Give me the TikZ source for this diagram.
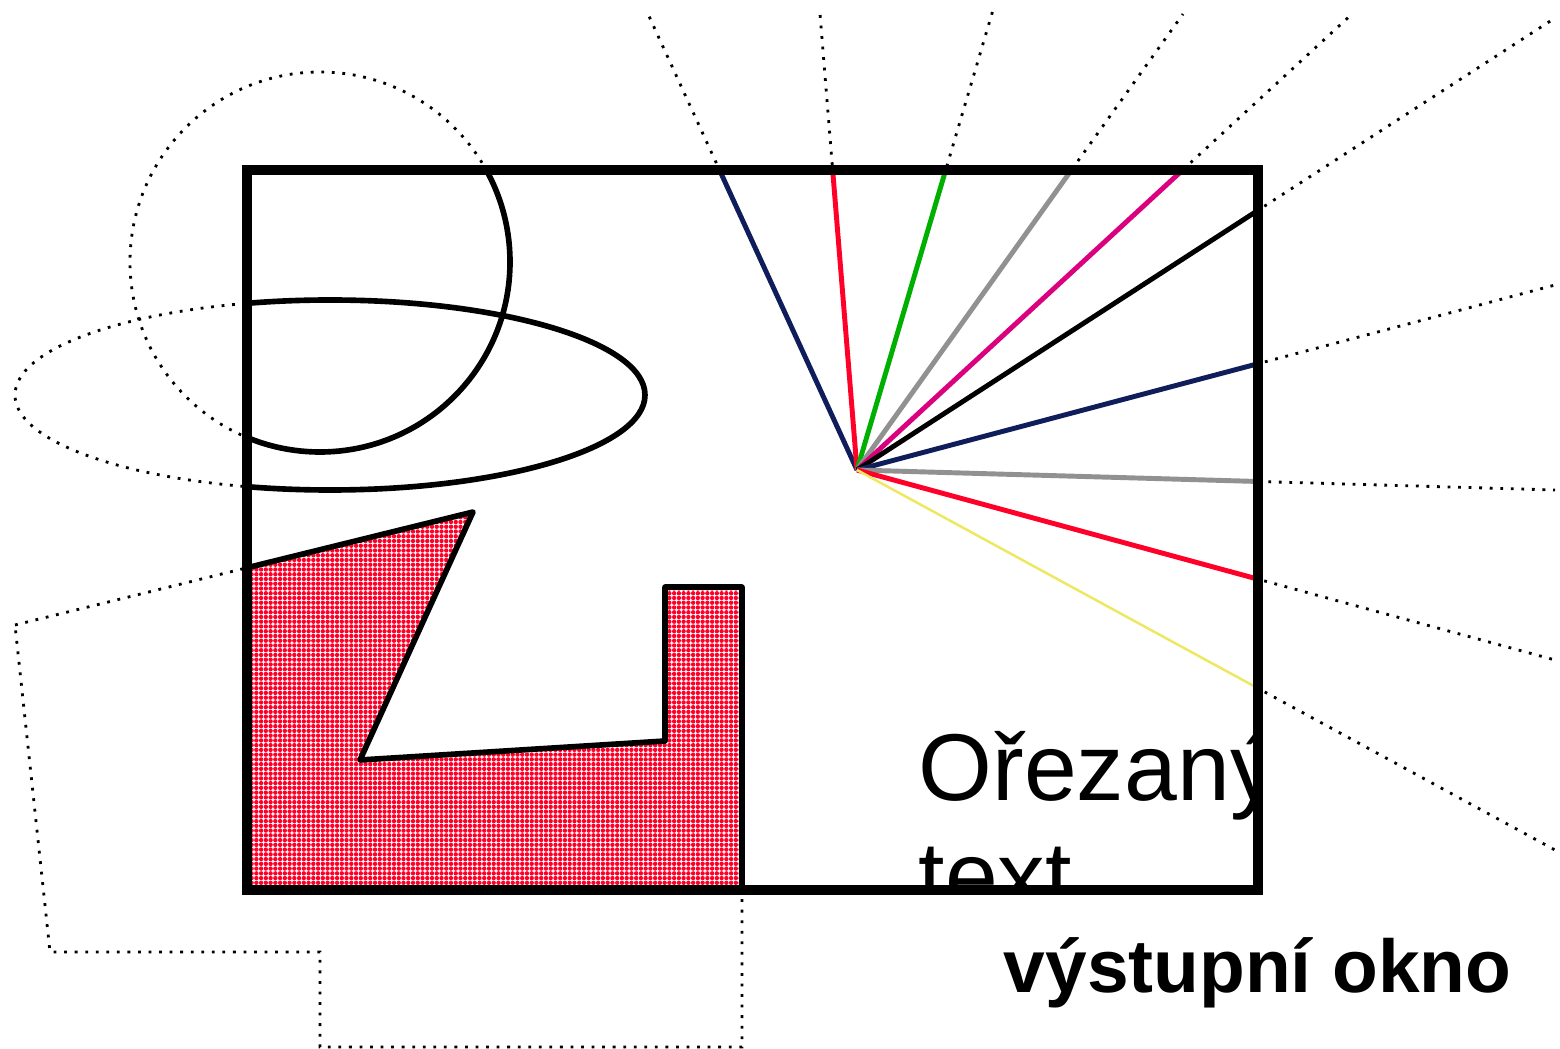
\documentclass[tikz,border=0pt]{standalone}
\usepackage{fontspec}
\setmainfont{Liberation Sans}
\usetikzlibrary{patterns.meta}

\definecolor{tmavomodra}{RGB}{15,30,90}
\definecolor{cervena}{RGB}{255,0,40}
\definecolor{zelena}{RGB}{0,176,0}
\definecolor{seda}{RGB}{145,145,145}
\definecolor{purpurova}{RGB}{218,0,126}
\definecolor{zluta}{RGB}{238,232,96}

\begin{document}
\begin{tikzpicture}[x=0.01cm, y=-0.01cm,
    tecky/.style={line width=0.8pt, dash pattern=on 0.8pt off 2.2pt},
    obrys/.style={line width=1.6pt, line join=round},
    paprsek/.style={line width=1.4pt}]

    \useasboundingbox (0,0) rectangle (1560,1049);

    % Vystupni okno a stred paprsku
    \coordinate (OknoLH) at (247,170);
    \coordinate (OknoPD) at (1258,890);
    \coordinate (Stred) at (857,470);

    % Mnohouhelnik
    \coordinate (P1) at (15,625);
    \coordinate (P2) at (473,512);
    \coordinate (P3) at (360,760);
    \coordinate (P4) at (665,741);
    \coordinate (P5) at (665,587);
    \coordinate (P6) at (742,587);
    \coordinate (P7) at (742,1047);
    \coordinate (P8) at (320,1047);
    \coordinate (P9) at (320,952);
    \coordinate (P10) at (50,952);

    % Puvodni objekty (teckovane)
    \draw[tecky] (320,262) circle [radius=190];
    \draw[tecky] (330,395) ellipse [x radius=315, y radius=95];
    \draw[tecky] (P1) -- (P2) -- (P3) -- (P4) -- (P5) -- (P6) -- (P7) -- (P8) -- (P9) -- (P10) -- cycle;
    \foreach \bod in {{648,14},{820,14},{993,10},{1183,14},{1352,14},{1555,18},{1555,285},{1555,490},{1555,660},{1555,850}}
        \draw[tecky] (Stred) -- (\bod);

    % Orezane objekty
    \fill[white] (OknoLH) rectangle (OknoPD);
    \begin{scope}
        \clip (OknoLH) rectangle (OknoPD);
        \fill[pattern={Dots[distance=1.35pt, radius=0.62pt]}, pattern color=cervena]
            (P1) -- (P2) -- (P3) -- (P4) -- (P5) -- (P6) -- (P7) -- (P8) -- (P9) -- (P10) -- cycle;
        \draw[obrys] (P1) -- (P2) -- (P3) -- (P4) -- (P5) -- (P6) -- (P7) -- (P8) -- (P9) -- (P10) -- cycle;
        \draw[obrys] (320,262) circle [radius=190];
        \draw[obrys] (330,395) ellipse [x radius=315, y radius=95];
        \foreach \bod/\barva in {{648,14}/tmavomodra,{820,14}/cervena,{993,10}/zelena,{1183,14}/seda,{1352,14}/purpurova,{1555,18}/black,{1555,285}/tmavomodra,{1555,490}/seda,{1555,660}/cervena}
            \draw[paprsek, \barva] (Stred) -- (\bod);
        \draw[line width=0.7pt, zluta] (Stred) -- (1555,850);
        \node[anchor=base west, align=left, inner sep=0pt, font=\fontsize{27}{30.5}\selectfont] (orezany) at (918,908) {Ořezaný\\text};
    \end{scope}
    \draw[line width=3pt] (OknoLH) rectangle (OknoPD);

    % Popis
    \node[anchor=base west, inner sep=0pt, font=\fontsize{21.3}{25}\selectfont\bfseries] (popis) at (1003,992) {výstupní okno};
\end{tikzpicture}
\end{document}
